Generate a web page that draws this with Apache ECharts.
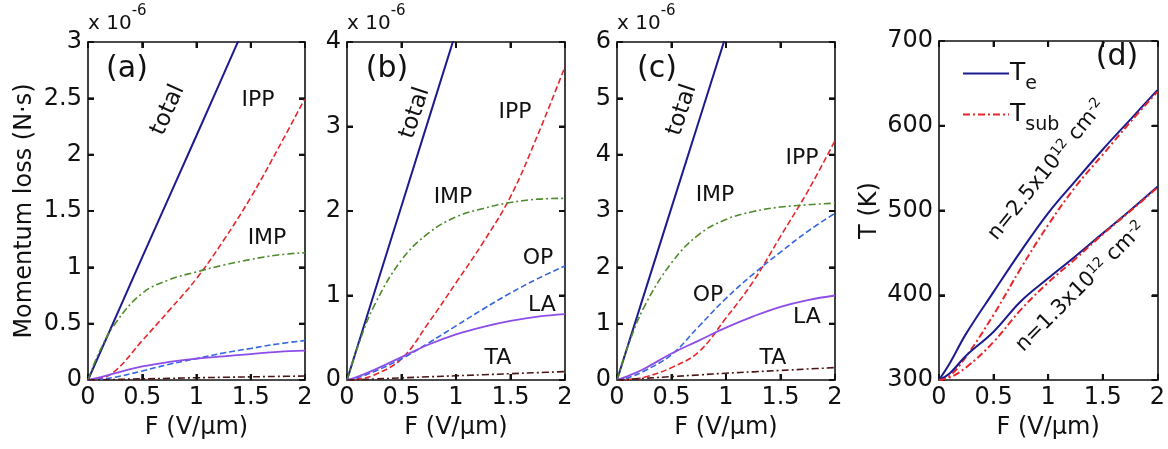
<!DOCTYPE html>
<html>
<head>
<meta charset="utf-8">
<script src="https://cdn.jsdelivr.net/npm/echarts@6/dist/echarts.min.js"></script>
<style>
  html, body { margin: 0; padding: 0; background: #fff; }
  #chart { width: 1168px; height: 449px; }
</style>
</head>
<body>
<div id="chart"></div>
<script>
// field values (V/um)
const F = [0, 0.1, 0.25, 0.5, 0.75, 1, 1.25, 1.5, 1.75, 2];
const F_total = [0, 0.5, 1, 1.5];

// tick values
const xTicks = [0, 0.5, 1, 1.5, 2];
const yTicks_a = [0, 0.5, 1, 1.5, 2, 2.5, 3];
const yTicks_b = [0, 1, 2, 3, 4];
const yTicks_c = [0, 1, 2, 3, 4, 5, 6];
const yTicks_d = [300, 400, 500, 600, 700];

// panel (a), x 1e-6 N.s
const total_a = [0, 1.09, 2.17, 3.26];
const IPP_a = [0, 0.01, 0.08, 0.35, 0.62, 0.9, 1.24, 1.62, 2.05, 2.5];
const IMP_a = [0, 0.24, 0.5, 0.77, 0.89, 0.96, 1.02, 1.07, 1.11, 1.13];
const OP_a = [0, 0.005, 0.025, 0.08, 0.14, 0.19, 0.24, 0.28, 0.32, 0.35];
const LA_a = [0, 0.02, 0.06, 0.12, 0.16, 0.19, 0.21, 0.23, 0.25, 0.26];
const TA_a = [0, 0.002, 0.005, 0.01, 0.015, 0.02, 0.024, 0.028, 0.032, 0.035];

// panel (b)
const total_b = [0, 2.06, 4.12, 6.18];
const IPP_b = [0, 0.01, 0.06, 0.25, 0.68, 1.15, 1.63, 2.17, 2.9, 3.71];
const IMP_b = [0, 0.4, 0.88, 1.42, 1.74, 1.93, 2.03, 2.1, 2.14, 2.15];
const OP_b = [0, 0.03, 0.1, 0.25, 0.44, 0.64, 0.84, 1.03, 1.2, 1.35];
const LA_b = [0, 0.04, 0.12, 0.27, 0.42, 0.54, 0.63, 0.7, 0.75, 0.78];
const TA_b = [0, 0.005, 0.012, 0.025, 0.038, 0.05, 0.062, 0.075, 0.087, 0.1];

// panel (c)
const total_c = [0, 3.06, 6.12, 9.18];
const IPP_c = [0, 0.01, 0.05, 0.22, 0.5, 1.1, 1.75, 2.55, 3.35, 4.25];
const IMP_c = [0, 0.6, 1.3, 2.08, 2.58, 2.85, 2.99, 3.07, 3.11, 3.14];
const OP_c = [0, 0.04, 0.16, 0.45, 0.95, 1.45, 1.88, 2.27, 2.64, 2.96];
const LA_c = [0, 0.07, 0.2, 0.47, 0.7, 0.93, 1.13, 1.3, 1.42, 1.5];
const TA_c = [0, 0.01, 0.03, 0.06, 0.09, 0.12, 0.145, 0.17, 0.195, 0.22];

// panel (d), temperature (K)
const Te_hi = [300, 320, 355, 404, 452, 497, 535, 572, 607, 642];
const Tsub_hi = [300, 305, 328, 377, 432, 483, 528, 566, 604, 640];
const Te_lo = [300, 308, 329, 357, 393, 420, 446, 473, 500, 528];
const Tsub_lo = [300, 303, 315, 345, 383, 415, 443, 472, 499, 527];

const FONT = 'DejaVu Sans';
const FS = 24;
const C = {
  total: '#1b1b8f', IPP: '#e8262a', IMP: '#4f8a2b',
  OP: '#3366e0', LA: '#8d4de8', TA: '#4a1515'
};
const dashed = [6, 3];
const dashDot = [7, 3, 2, 3];

const grids = [
  { left: 88, top: 42, width: 217, height: 338 },
  { left: 347, top: 42, width: 218, height: 338 },
  { left: 617, top: 42, width: 218, height: 338 },
  { left: 939, top: 41, width: 219, height: 339 }
];
const yTicks = [yTicks_a, yTicks_b, yTicks_c, yTicks_d];

const axisLine = () => ({ show: true, onZero: false, lineStyle: { color: '#111', width: 1.6 } });
const axisTick = () => ({ show: true, inside: true, length: 6, lineStyle: { color: '#111', width: 2 } });
const lbl = (m) => ({ show: true, margin: m, fontFamily: FONT, fontSize: FS, color: '#111' });
const nameStyle = { fontFamily: FONT, fontSize: FS, color: '#111' };

const xAxis = [], yAxis = [];
grids.forEach((g, i) => {
  xAxis.push({
    type: 'value', gridIndex: i, min: xTicks[0], max: xTicks[xTicks.length - 1], interval: 0.5,
    position: 'bottom', axisLine: axisLine(), axisTick: axisTick(), splitLine: { show: false },
    axisLabel: lbl(6),
    name: 'F (V/μm)', nameLocation: 'middle', nameGap: 36, nameTextStyle: nameStyle
  });
  xAxis.push({
    type: 'value', gridIndex: i, min: xTicks[0], max: xTicks[xTicks.length - 1], interval: 0.5,
    position: 'top', axisLine: axisLine(), axisTick: axisTick(), splitLine: { show: false },
    axisLabel: { show: false }
  });
  const t = yTicks[i];
  const yl = {
    type: 'value', gridIndex: i, min: t[0], max: t[t.length - 1], interval: t[1] - t[0],
    position: 'left', axisLine: axisLine(), axisTick: axisTick(), splitLine: { show: false },
    axisLabel: lbl(6)
  };
  if (i === 0) {
    yl.name = 'Momentum loss (N·s)';
    yl.nameLocation = 'middle'; yl.nameGap = 51; yl.nameTextStyle = nameStyle;
  }
  if (i === 3) {
    yl.name = 'T (K)';
    yl.nameLocation = 'middle'; yl.nameGap = 57; yl.nameTextStyle = nameStyle;
  }
  yAxis.push(yl);
  yAxis.push({
    type: 'value', gridIndex: i, min: t[0], max: t[t.length - 1], interval: t[1] - t[0],
    position: 'right', axisLine: axisLine(), axisTick: axisTick(), splitLine: { show: false },
    axisLabel: { show: false }
  });
});

function mk(name, xs, ys, panel, color, type, width) {
  return {
    type: 'line', name, xAxisIndex: panel * 2, yAxisIndex: panel * 2,
    data: xs.map((x, k) => [x, ys[k]]),
    smooth: 0.4, symbol: 'none', clip: true, silent: true,
    lineStyle: { color, type, width: width || 1.6 },
    itemStyle: { color }
  };
}

const series = [
  mk('total', F_total, total_a, 0, C.total, 'solid', 2),
  mk('IPP', F, IPP_a, 0, C.IPP, dashed),
  mk('IMP', F, IMP_a, 0, C.IMP, dashDot),
  mk('OP', F, OP_a, 0, C.OP, dashed),
  mk('LA', F, LA_a, 0, C.LA, 'solid', 1.8),
  mk('TA', F, TA_a, 0, C.TA, dashDot),

  mk('total', F_total, total_b, 1, C.total, 'solid', 2),
  mk('IPP', F, IPP_b, 1, C.IPP, dashed),
  mk('IMP', F, IMP_b, 1, C.IMP, dashDot),
  mk('OP', F, OP_b, 1, C.OP, dashed),
  mk('LA', F, LA_b, 1, C.LA, 'solid', 1.8),
  mk('TA', F, TA_b, 1, C.TA, dashDot),

  mk('total', F_total, total_c, 2, C.total, 'solid', 2),
  mk('IPP', F, IPP_c, 2, C.IPP, dashed),
  mk('IMP', F, IMP_c, 2, C.IMP, dashDot),
  mk('OP', F, OP_c, 2, C.OP, dashed),
  mk('LA', F, LA_c, 2, C.LA, 'solid', 1.8),
  mk('TA', F, TA_c, 2, C.TA, dashDot),

  mk('Te', F, Te_hi, 3, C.total, 'solid', 2),
  mk('Tsub', F, Tsub_hi, 3, C.IPP, dashDot, 2),
  mk('Te', F, Te_lo, 3, C.total, 'solid', 2),
  mk('Tsub', F, Tsub_lo, 3, C.IPP, dashDot, 2)
];

// text annotations
const txt = (x, y, text, size, rot, extra) => ({
  type: 'text', x, y, rotation: (rot || 0) * Math.PI / 180,
  style: Object.assign({
    text, fontFamily: FONT, fontSize: size, fill: '#111',
    align: 'center', verticalAlign: 'middle'
  }, extra || {})
});
const exp6 = (x) => ({
  type: 'text', x, y: 4,
  style: {
    text: '{b|x 10}{s|-6}', fontFamily: FONT, fill: '#111',
    rich: {
      b: { fontFamily: FONT, fontSize: 20, color: '#111', padding: [10, 0, 0, 0] },
      s: { fontFamily: FONT, fontSize: 15, color: '#111', verticalAlign: 'top' }
    }
  }
});

const nRich = {
  b: { fontFamily: FONT, fontSize: 21, color: '#111' },
  s: { fontFamily: FONT, fontSize: 14, color: '#111', verticalAlign: 'top', padding: [0, 0, 9, 0] }
};

const labels = [
  exp6(88), exp6(347), exp6(617),
  txt(127, 69, '(a)', 30), txt(387, 69, '(b)', 30), txt(657, 69, '(c)', 30), txt(1117, 57, '(d)', 30),
  txt(168, 110, 'total', 23, 66), txt(258, 100, 'IPP', 22), txt(267, 238, 'IMP', 22),
  txt(415, 113, 'total', 23, 72), txt(515, 112, 'IPP', 22), txt(453, 197, 'IMP', 22),
  txt(538, 258, 'OP', 22), txt(542, 305, 'LA', 22), txt(498, 358, 'TA', 22),
  txt(682, 110, 'total', 23, 72), txt(802, 158, 'IPP', 22), txt(715, 195, 'IMP', 22),
  txt(708, 295, 'OP', 22), txt(807, 317, 'LA', 22), txt(773, 358, 'TA', 22),
  txt(1047, 170, '{b|n=2.5x10}{s|12}{b| cm}{s|-2}', 21, 51, { rich: nRich }),
  txt(1081, 287, '{b|n=1.3x10}{s|12}{b| cm}{s|-2}', 21, 45, { rich: nRich })
];

const chart = echarts.init(document.getElementById('chart'), null, { renderer: 'canvas' });
chart.setOption({
  animation: false,
  backgroundColor: '#fff',
  grid: grids,
  xAxis, yAxis, series,
  legend: {
    data: ['Te', 'Tsub'], orient: 'vertical', left: 957, top: 56, itemGap: 8,
    itemWidth: 46, itemHeight: 14,
    itemStyle: { opacity: 0 },
    formatter: (n) => n === 'Te' ? '{t|T}{s|e}' : '{t|T}{s|sub}',
    textStyle: {
      padding: [0, 0, 0, -4],
      rich: {
        t: { fontFamily: FONT, fontSize: 25, color: '#111' },
        s: { fontFamily: FONT, fontSize: 19, color: '#111', padding: [22, 0, 0, 0] }
      }
    }
  }
});

// inward tick marks on all four sides, positioned through each panel's axes
const tickMarks = [];
const L = 6;
yTicks.forEach((yt, i) => {
  const fx = { xAxisIndex: i * 2 }, fy = { yAxisIndex: i * 2 };
  const left = grids[i].left, right = left + grids[i].width;
  const top = grids[i].top, bottom = top + grids[i].height;
  const seg = (x, y, dx, dy) => tickMarks.push({
    type: 'line', z: 100, silent: true,
    shape: { x1: x, y1: y, x2: x + dx, y2: y + dy },
    style: { stroke: '#111', lineWidth: 2 }
  });
  xTicks.slice(1, -1).forEach(v => {
    const px = chart.convertToPixel(fx, v);
    seg(px, bottom, 0, -L);
    seg(px, top, 0, L);
  });
  yt.slice(1, -1).forEach(v => {
    const py = chart.convertToPixel(fy, v);
    seg(left, py, L, 0);
    seg(right, py, -L, 0);
  });
});

chart.setOption({ graphic: labels.concat(tickMarks) });
</script>
</body>
</html>
